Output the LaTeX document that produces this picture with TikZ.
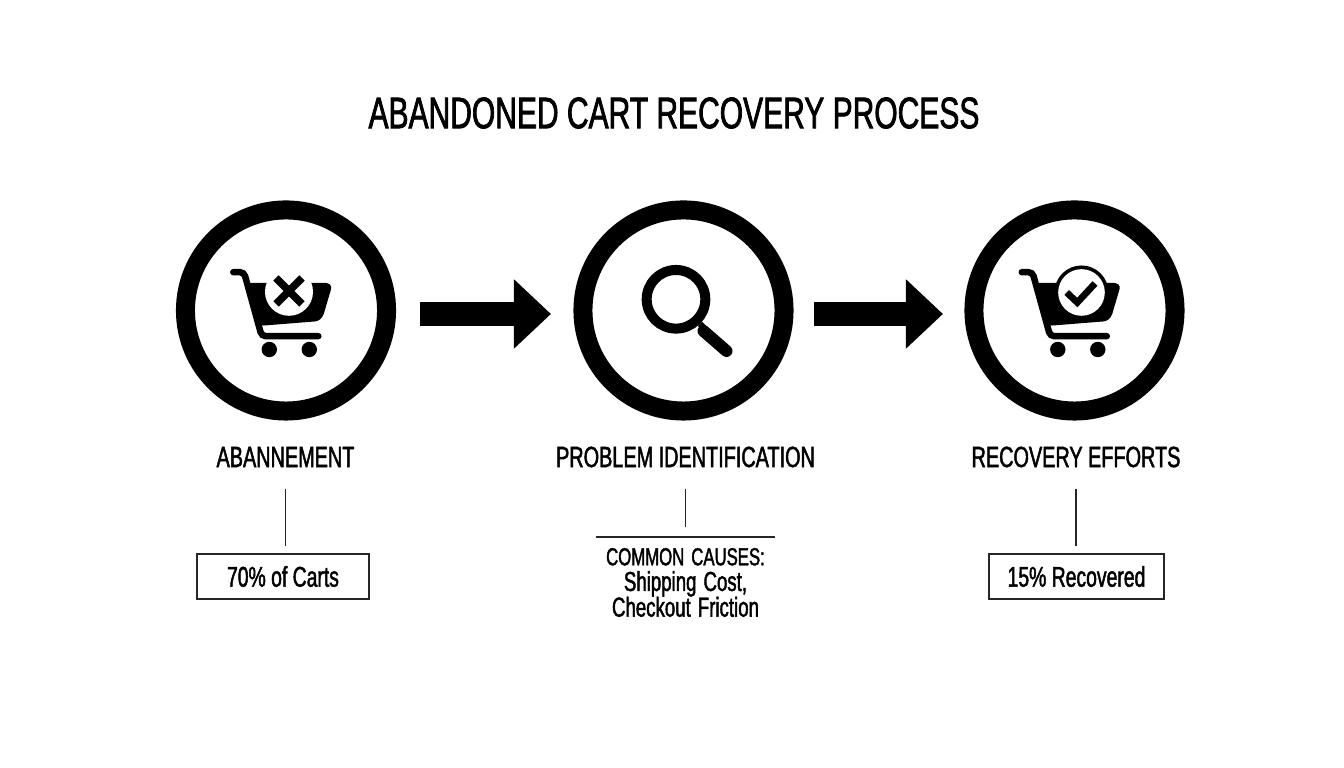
\documentclass[tikz,border=0pt]{standalone}
\usepackage{fontspec}
\setmainfont[FakeStretch=0.68,FakeBold=1.6]{Liberation Sans}
\usetikzlibrary{arrows.meta}
\tikzset{
ring/.style={circle,draw=black,line width=.19cm,minimum size=2.01cm,inner sep=0pt},
bigarrow/.style={line width=.24cm,-{Triangle[length=.37cm,width=.67cm]}},
heading/.style={font=\fontsize{12.55}{14}\selectfont},
steplabel/.style={font=\fontsize{8.3}{10}\selectfont,minimum height=.62cm,inner sep=0pt},
thinline/.style={line width=.013cm,draw=black!85},
notebox/.style={thinline,draw,minimum height=.45cm,inner sep=0pt,font=\fontsize{8.1}{9}\selectfont},
}
\newcommand{\cartbody}{
\fill[rounded corners=.03cm] (-37.7,-27.7) -- (41.7,-27.7) -- (46,-24.5) -- (37,6) -- (32.3,10.7) -- (-25.3,15.3) -- cycle;
\draw[line width=.065cm,line cap=round,rounded corners=.04cm] (-52.7,-38.3) -- (-42,-38.3) -- (-24.3,25.7) -- (32.3,25.7);
\fill (-16.7,39) circle (.077cm);
\fill (23.3,39) circle (.077cm);
}
\begin{document}
\begin{tikzpicture}[x=.01cm,y=-.01cm]
\useasboundingbox (0,0) rectangle (1344,768);
\node[heading] (title) at (674,113) {ABANDONED CART RECOVERY PROCESS};

\node[ring] (C1) at (286,310.5) {};
\node[ring] (C2) at (683.5,310.5) {};
\node[ring] (C3) at (1074.5,310.5) {};

\coordinate (A1) at (420,314);
\coordinate (A2) at (551,314);
\coordinate (A3) at (814,314);
\coordinate (A4) at (943,314);
\draw[bigarrow] (A1) -- (A2);
\draw[bigarrow] (A3) -- (A4);

\begin{scope}[shift={(C1)}]
\cartbody
\fill[white] (3,-18.7) circle (.24cm);
\draw[line width=.075cm] (-10,-32.5) -- (16,-6.5);
\draw[line width=.075cm] (-10,-6.5) -- (16,-32.5);
\end{scope}

\begin{scope}[shift={(C2)}]
\draw[line width=.1cm] (-7.5,-11.2) circle (.293cm);
\draw[line width=.06cm] (16.5,13.5) -- (22,19);
\draw[line width=.12cm,line cap=round] (20,20.5) -- (43,40.5);
\end{scope}

\begin{scope}[xshift=.01cm,shift={(C3)}]
\cartbody
\fill (7,-18) circle (.27cm);
\fill[white] (7,-18) circle (.233cm);
\draw[line width=.067cm] (-7.8,-18) -- (2.8,-8) -- (20.5,-27);
\end{scope}

\node[steplabel] (L1) at (285.5,457) {ABANNEMENT};
\node[steplabel] (L2) at (685.5,457) {PROBLEM IDENTIFICATION};
\node[steplabel] (L3) at (1076,457) {RECOVERY EFFORTS};

\node[notebox,minimum width=1.72cm] (B1) at (283,576.5) {70\% of Carts};
\node[notebox,minimum width=1.75cm] (B3) at (1076.5,576.5) {15\% Recovered};
\node[align=center,inner sep=0pt,text width=1.77cm,minimum height=.9cm,font=\fontsize{7.8}{7.3}\selectfont] (N2) at (685.5,582.5) {\lineskiplimit=-10pt\relax\spaceskip=2pt\relax\fontsize{7}{7.3}\selectfont COMMON CAUSES:\\\fontsize{7.8}{7.3}\selectfont Shipping Cost,\\Checkout Friction};

\draw[thinline,shorten >=.07cm] (L1.south) -- (L1.south |- B1.north);
\draw[thinline,shorten >=.095cm] (L2.south) -- (L2.south |- N2.north);
\draw[thinline,shorten >=.07cm] (L3.south) -- (L3.south |- B3.north);
\draw[thinline,line width=.018cm] (N2.north west) -- (N2.north east);
\end{tikzpicture}
\end{document}
